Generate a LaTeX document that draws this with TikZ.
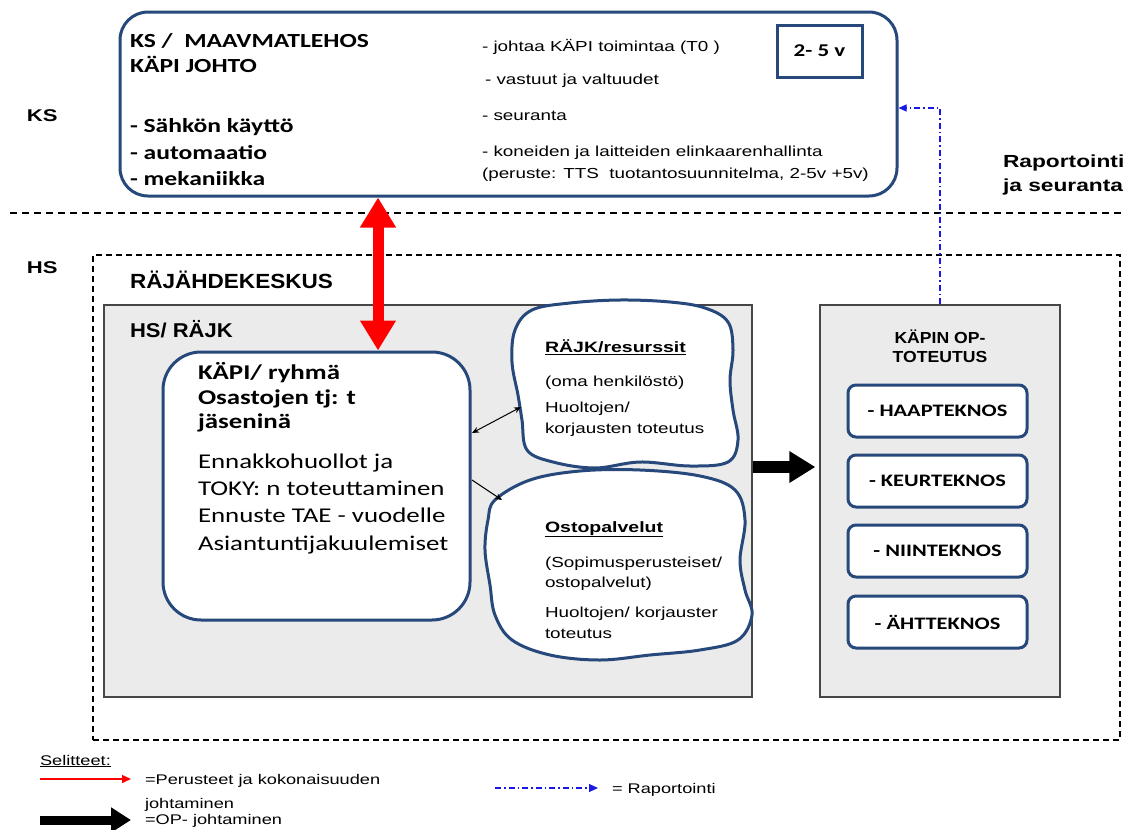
\documentclass[tikz,border=0pt]{standalone}
\usepackage{fontspec}
\setmainfont{Liberation Sans}[FakeStretch=1.1]
\newfontfamily\arialw{Liberation Sans}[FakeStretch=1.3]
\newfontfamily\calib{Carlito}[FakeStretch=1.28]
\usetikzlibrary{arrows.meta,calc}
\definecolor{bord}{RGB}{38,72,122}
\definecolor{panel}{RGB}{235,235,235}
\definecolor{panelline}{RGB}{70,70,70}
\definecolor{rep}{RGB}{25,25,230}
\newcommand\fsz[1]{\fontsize{#1}{#1}\selectfont}
\tikzset{
  lab/.style={anchor=base west, inner sep=0pt, outer sep=0pt},
  blubox/.style={draw=bord, line width=3pt, fill=white},
  graybox/.style={draw=panelline, line width=1.3pt, fill=panel},
  tekbox/.style={blubox, rounded corners=8pt, minimum width=179pt, minimum height=52pt, font=\calib\bfseries\fsz{17.5}},
  cloud/.style={draw=bord, line width=3pt, fill=white},
  repline/.style={rep, line width=1.2pt, dash pattern=on 6pt off 3pt on 1.5pt off 3pt},
}
\begin{document}
\begin{tikzpicture}[x=1pt,y=-1pt]
\useasboundingbox (0,0) rectangle (1141,830);

% side labels
\node[lab, font=\arialw\bfseries\fsz{17}] (ks) at (27,121) {KS};
\node[lab, font=\arialw\bfseries\fsz{17}] (hs) at (27,273) {HS};
\node[lab, font=\arialw\bfseries\fsz{17.5}] (rap1) at (1003,167) {Raportointi};
\node[lab, font=\arialw\bfseries\fsz{17.5}] (rap2) at (1003,191) {ja seuranta};

% horizontal dashed divider
\coordinate (dl) at (10,213);
\coordinate (dr) at (1122,213);
\draw[line width=1.2pt, dash pattern=on 7pt off 5pt] (dl) -- (dr);

% top box
\node[blubox, rounded corners=28pt, minimum width=777pt, minimum height=184pt] (topbox) at (508.5,104) {};
\node[blubox, minimum width=85pt, minimum height=52pt, font=\calib\bfseries\fsz{18}] (yrs) at (819.5,51) {2- 5 v};

\node[lab, font=\calib\bfseries\fsz{20}] (t1) at (130,47) {KS /\ \ MAAVMATLEHOS};
\node[lab, font=\calib\bfseries\fsz{20}] (t2) at (130,72) {KÄPI JOHTO};
\node[lab, font=\calib\bfseries\fsz{20}] (t3) at (130,132) {- Sähkön käyttö};
\node[lab, font=\calib\bfseries\fsz{20}] (t4) at (130,159) {- automaatio};
\node[lab, font=\calib\bfseries\fsz{20}] (t5) at (130,185) {- mekaniikka};

\node[lab, font=\arialw\fsz{14.5}] (r1) at (482,51) {- johtaa KÄPI toimintaa (T0 )};
\node[lab, font=\arialw\fsz{14.5}] (r2) at (485,84) {- vastuut ja valtuudet};
\node[lab, font=\arialw\fsz{14.5}] (r3) at (482,120) {- seuranta};
\node[lab, font=\arialw\fsz{14.5}] (r4) at (482,156) {- koneiden ja laitteiden elinkaarenhallinta};
\node[lab, font=\arialw\fsz{14.5}] (r5) at (482,178) {(peruste: TTS\ \ tuotantosuunnitelma, 2-5v +5v)};

% RÄJÄHDEKESKUS dashed frame
\node[draw, line width=1.1pt, dash pattern=on 6pt off 4pt, minimum width=1027pt, minimum height=485pt] (rk) at (606.5,497.5) {};
\node[lab, font=\bfseries\fsz{20.5}] (rkt) at (130,288) {RÄJÄHDEKESKUS};

% HS / RÄJK panel
\node[graybox, minimum width=648pt, minimum height=392pt] (rajk) at (428,501) {};
\node[lab, font=\bfseries\fsz{20}] (rajkt) at (130,337) {HS/ RÄJK};

% KÄPI ryhmä box
\node[blubox, rounded corners=38pt, minimum width=307pt, minimum height=268pt] (kapi) at (316.5,486) {};
\node[lab, font=\calib\bfseries\fsz{21}] (k1) at (198,379) {KÄPI/ ryhmä};
\node[lab, font=\calib\bfseries\fsz{21}] (k2) at (198,404) {Osastojen tj: t};
\node[lab, font=\calib\bfseries\fsz{21}] (k3) at (198,428) {jäseninä};
\node[lab, font=\calib\fsz{21}] (k4) at (198,468) {Ennakkohuollot ja};
\node[lab, font=\calib\fsz{21}] (k5) at (198,495) {TOKY: n toteuttaminen};
\node[lab, font=\calib\fsz{21}] (k6) at (198,522) {Ennuste TAE - vuodelle};
\node[lab, font=\calib\fsz{21}] (k7) at (198,550) {Asiantuntijakuulemiset};

% clouds
\draw[cloud] plot[smooth cycle, tension=0.6] coordinates {
 (515,330) (532,310) (570,303) (620,300) (670,302) (705,308) (728,322) (733,350)
 (730,380) (733,410) (738,440) (728,462) (690,466) (640,462) (595,468) (553,462)
 (527,450) (522,420) (518,395) (512,362)};
\draw[cloud] plot[smooth cycle, tension=0.6] coordinates {
 (495,500) (530,480) (580,471) (640,470) (700,476) (735,490) (745,520) (740,560)
 (745,590) (752,615) (738,640) (700,650) (650,655) (600,660) (550,655) (512,640)
 (495,615) (490,585) (485,550) (488,520)};

\node[lab, font=\arialw\bfseries\fsz{15}] (c1a) at (545,352) {\underline{RÄJK/resurssit}};
\node[lab, font=\arialw\fsz{14.5}] (c1b) at (545,386) {(oma henkilöstö)};
\node[lab, font=\arialw\fsz{14.5}] (c1c) at (545,412) {Huoltojen/};
\node[lab, font=\arialw\fsz{14.5}] (c1d) at (545,433) {korjausten toteutus};

\node[lab, font=\arialw\bfseries\fsz{15}] (c2a) at (545,532) {\underline{Ostopalvelut}};
\node[lab, font=\arialw\fsz{14.5}] (c2b) at (545,567) {(Sopimusperusteiset/};
\node[lab, font=\arialw\fsz{14.5}] (c2c) at (545,587) {ostopalvelut)};
\node[lab, font=\arialw\fsz{14.5}] (c2d) at (545,617) {Huoltojen/ korjauster};
\node[lab, font=\arialw\fsz{14.5}] (c2e) at (545,638) {toteutus};

% connectors from KÄPI box to clouds
\coordinate (ka) at (472,433);
\coordinate (cw1) at (521,407);
\coordinate (kb) at (472,480);
\coordinate (cw2) at (502,500);
\draw[line width=1pt, {Stealth[length=7pt,width=6pt]}-{Stealth[length=7pt,width=6pt]}] (ka) -- (cw1);
\draw[line width=1pt, -{Stealth[length=7pt,width=6pt]}] (kb) -- (cw2);

% KÄPIN OP-TOTEUTUS panel
\node[graybox, minimum width=240pt, minimum height=392pt] (op) at (940,501) {};
\node[font=\bfseries\fsz{16}, align=center, inner sep=0pt] (opt) at (940,346) {KÄPIN OP-\\[3pt]TOTEUTUS};
\node[tekbox] (b1) at (937.5,411) {- HAAPTEKNOS};
\node[tekbox] (b2) at (937.5,481) {- KEURTEKNOS};
\node[tekbox] (b3) at (937.5,551) {- NIINTEKNOS};
\node[tekbox] (b4) at (937.5,622) {- ÄHTTEKNOS};

% thick black OP arrow
\coordinate (by) at (0,467);
\draw[line width=12pt, shorten >=4pt, -{Triangle[length=26pt,width=30pt]}] (rajk.east |- by) -- (op.west |- by);

% red double arrow
\coordinate (rx) at (378,0);
\draw[red, line width=11pt, {Triangle[length=30pt,width=34pt]}-{Triangle[length=30pt,width=34pt]}] (topbox.south -| rx) -- (kapi.north -| rx);

% reporting arrow
\coordinate (rp) at (topbox.east |- 0,108);
\draw[repline, -{Triangle[length=8pt,width=7pt]}] (op.north) |- (rp);

% legend
\node[lab, font=\arialw\fsz{14}] (sel) at (40,765) {\underline{Selitteet:}};
\coordinate (la1) at (40,779);
\coordinate (la2) at (131,779);
\draw[red, line width=1.5pt, -{Triangle[length=9pt,width=8pt]}] (la1) -- (la2);
\node[lab, font=\arialw\fsz{14}] (lt1) at (145,784) {=Perusteet ja kokonaisuuden};
\node[lab, font=\arialw\fsz{14}] (lt2) at (145,808) {johtaminen};
\coordinate (lb1) at (40,820);
\coordinate (lb2) at (131,820);
\draw[line width=9pt, -{Triangle[length=20pt,width=24pt]}] (lb1) -- (lb2);
\node[lab, font=\arialw\fsz{14}] (lt3) at (145,824) {=OP- johtaminen};
\coordinate (lc1) at (495,788);
\coordinate (lc2) at (598,788);
\draw[repline, -{Triangle[length=9pt,width=8pt]}] (lc1) -- (lc2);
\node[lab, font=\arialw\fsz{14}] (lt4) at (612,793) {= Raportointi};
\end{tikzpicture}
\end{document}
